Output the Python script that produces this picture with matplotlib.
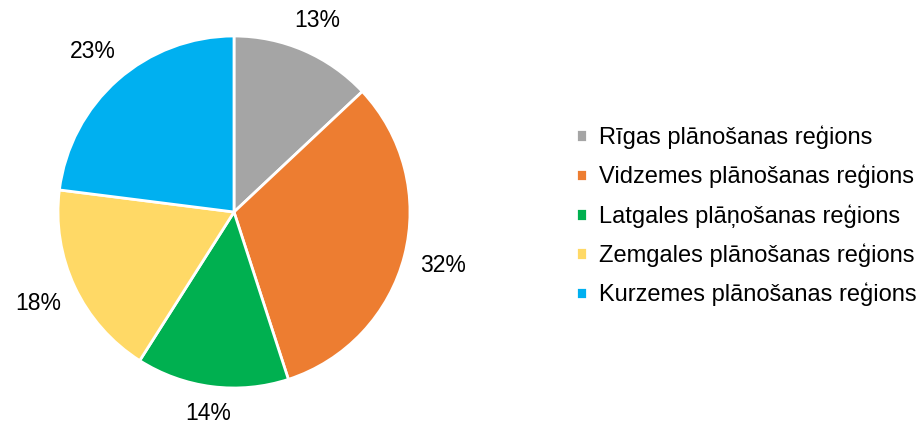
import matplotlib
matplotlib.use('Agg')
import matplotlib.pyplot as plt
import numpy as np

plt.rcParams['font.family'] = ['Liberation Sans', 'DejaVu Sans']

regions = ['Rīgas plānošanas reģions', 'Vidzemes plānošanas reģions',
           'Latgales plāņošanas reģions', 'Zemgales plānošanas reģions',
           'Kurzemes plānošanas reģions']
shares = [13, 32, 14, 18, 23]
colors = ['#A5A5A5', '#ED7D31', '#00B050', '#FFD966', '#00B0F0']

fig = plt.figure(figsize=(9.22, 4.23), dpi=100)
W, H = 922, 423
ax = fig.add_axes([58 / W, 35 / H, 352 / W, 352 / H])
wedges, _, autotexts = ax.pie(shares, colors=colors, startangle=90, counterclock=False,
                              autopct='%.0f%%', pctdistance=1.23,
                              wedgeprops=dict(edgecolor='white', linewidth=2),
                              textprops=dict(fontsize=16.5, color='black'))
ax.set_xlim(-1, 1)
ax.set_ylim(-1, 1)
ax.set_aspect('equal')

# labels outside the pie: gap + half box size along the radial direction
for w, t in zip(wedges, autotexts):
    a = np.deg2rad((w.theta1 + w.theta2) / 2)
    r = 1 + 0.075 + 0.14 * abs(np.cos(a)) + 0.06 * abs(np.sin(a))
    t.set_position((r * np.cos(a), r * np.sin(a)))

fig.legend(wedges, regions, loc='center left', bbox_to_anchor=(567 / W, 1 - 216 / H),
           frameon=False, fontsize=17, handlelength=0.45, handleheight=0.45,
           handletextpad=0.5, labelspacing=0.67, borderaxespad=0)

fig.savefig('out.png', dpi=100)
